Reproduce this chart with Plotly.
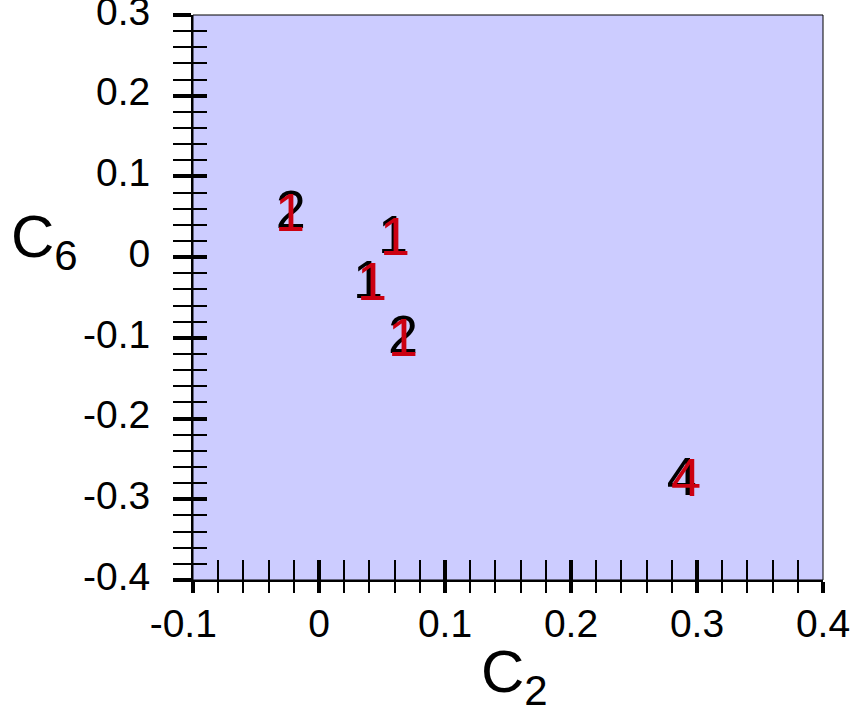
import plotly.graph_objects as go

# Data: black labels and red labels
black_x = [-0.0225, 0.0587, 0.0389, 0.0667, 0.288]
black_y = [0.0525, 0.0219, -0.0339, -0.102, -0.278]
black_text = ["2", "1", "1", "2", "4"]

red_x = [-0.023, 0.0603, 0.0421, 0.0667, 0.2913]
red_y = [0.0491, 0.0195, -0.0364, -0.1055, -0.2795]
red_text = ["1", "1", "1", "1", "4"]

x_tickvals = [-0.1, 0, 0.1, 0.2, 0.3, 0.4]
x_ticktext = ["-0.1\u2002", "0", "0.1", "0.2", "0.3", "0.4"]
y_tickvals = [0.3, 0.2, 0.1, 0, -0.1, -0.2, -0.3, -0.4]
y_ticktext = ["0.3", "0.2", "0.1", "0", "-0.1", "-0.2", "-0.3", "-0.4"]

FONT = "Liberation Sans, Arial, sans-serif"
EPS = 1e-6

fig = go.Figure()
fig.add_trace(go.Scatter(x=black_x, y=black_y, text=black_text, mode="text",
                         textposition="middle center",
                         textfont=dict(family=FONT, size=54, color="#000000"),
                         showlegend=False, hoverinfo="skip"))
fig.add_trace(go.Scatter(x=red_x, y=red_y, text=red_text, mode="text",
                         textposition="middle center",
                         textfont=dict(family=FONT, size=54, color="#cc0011"),
                         showlegend=False, hoverinfo="skip"))
# invisible trace to anchor overlay axes
fig.add_trace(go.Scatter(x=[None], y=[None], xaxis="x2", yaxis="y2",
                         showlegend=False, hoverinfo="skip"))

common_x = dict(range=[-0.1 - EPS, 0.4 + EPS], tickvals=x_tickvals, showgrid=False,
                zeroline=False, automargin=False)
common_y = dict(range=[-0.4 - EPS, 0.3 + EPS], tickvals=y_tickvals, showgrid=False,
                zeroline=False, automargin=False)

fig.update_layout(
    width=851, height=710,
    margin=dict(l=193, r=28, t=15, b=130),
    paper_bgcolor="white",
    plot_bgcolor="#ccccff",
    xaxis=dict(**common_x, ticktext=x_ticktext, ticks="outside", ticklen=11,
               tickwidth=4, tickcolor="black", showline=True, linecolor="black",
               linewidth=2, ticklabeloverflow="allow", ticklabelstandoff=-3,
               tickfont=dict(family=FONT, size=39, color="black"),
               minor=dict(dtick=0.02, ticks="outside", ticklen=11, tickwidth=2,
                          tickcolor="black", showgrid=False)),
    yaxis=dict(**common_y, ticktext=y_ticktext, ticks="outside", ticklen=18,
               tickwidth=4, tickcolor="black", showline=True, linecolor="black",
               linewidth=2, ticklabeloverflow="allow", ticklabelstandoff=15,
               ticklabelshift=-4,
               tickfont=dict(family=FONT, size=39, color="black"),
               minor=dict(dtick=0.02, ticks="outside", ticklen=18, tickwidth=2,
                          tickcolor="black", showgrid=False)),
    xaxis2=dict(**common_x, overlaying="x", anchor="y", side="bottom",
                ticks="inside", ticklen=20, tickwidth=4, tickcolor="black",
                showticklabels=False, showline=False,
                minor=dict(dtick=0.02, ticks="inside", ticklen=20, tickwidth=2,
                           tickcolor="black", showgrid=False)),
    yaxis2=dict(**common_y, overlaying="y", anchor="x", side="left",
                ticks="inside", ticklen=14, tickwidth=4, tickcolor="black",
                showticklabels=False, showline=False,
                minor=dict(dtick=0.02, ticks="inside", ticklen=14, tickwidth=2,
                           tickcolor="black", showgrid=False)),
    shapes=[dict(type="rect", xref="paper", yref="paper", x0=0, x1=1, y0=0, y1=1,
                 line=dict(color="black", width=1), layer="above")],
    annotations=[
        dict(text="C<sub>6</sub>", xref="paper", yref="paper",
             x=-0.292, y=0.600, xanchor="left", yanchor="middle",
             showarrow=False, font=dict(family=FONT, size=60, color="black")),
        dict(text="C<sub>2</sub>", xref="paper", yref="paper",
             x=0.511, y=-0.099, xanchor="center", yanchor="top",
             showarrow=False, font=dict(family=FONT, size=60, color="black")),
    ],
)

fig.write_html("out.html", config={"displayModeBar": False},
               post_script="document.body.style.margin='0';document.body.style.overflow='hidden';")
